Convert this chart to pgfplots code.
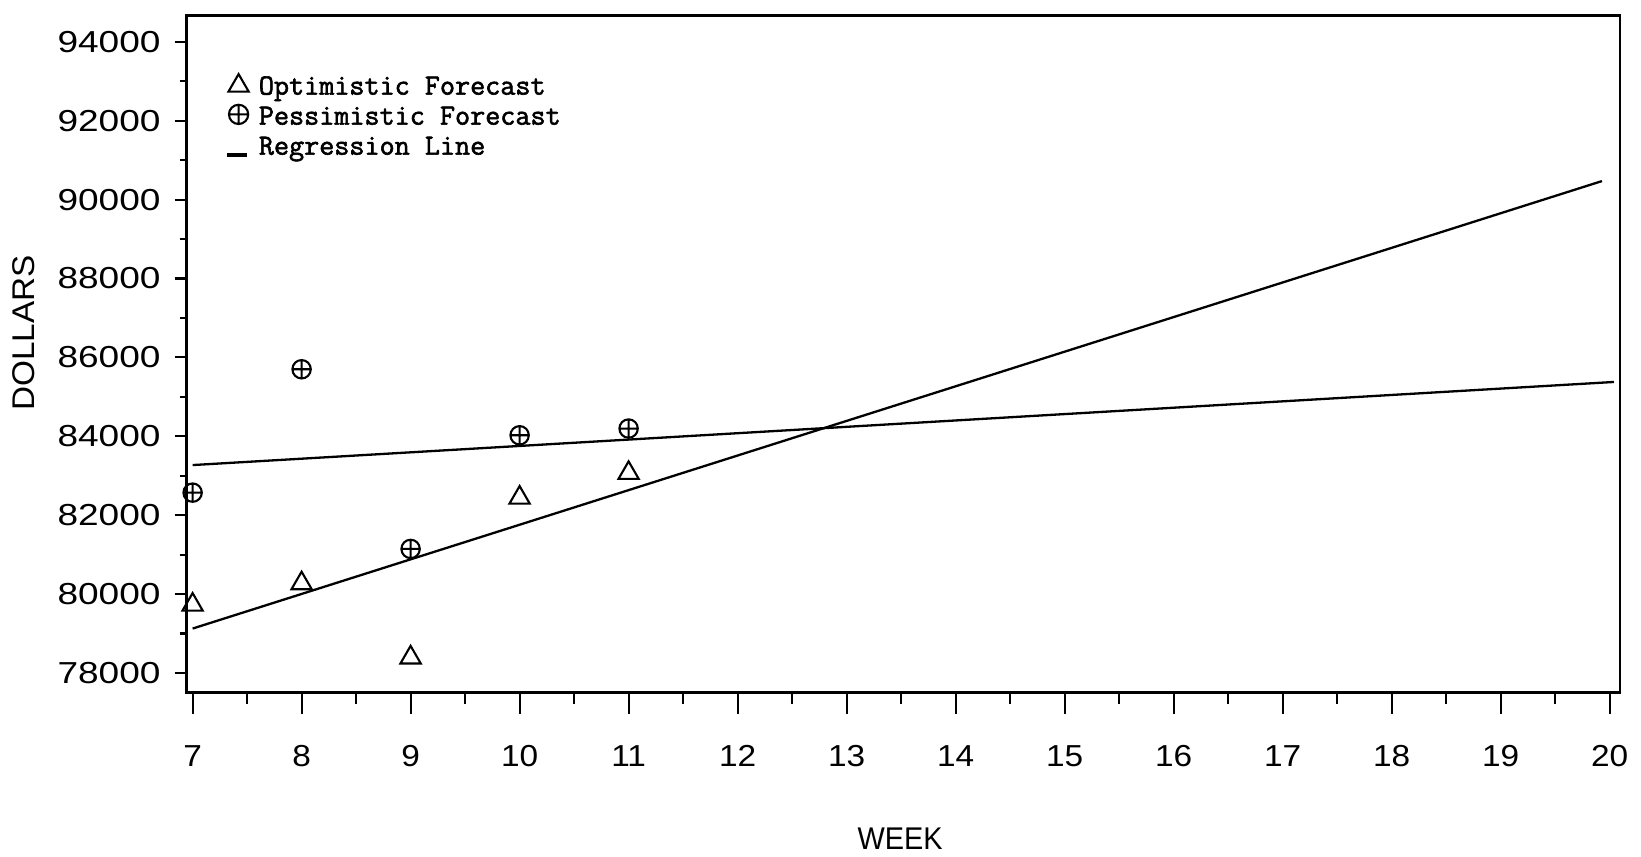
\documentclass[border=0pt]{standalone}
\usepackage{pgfplots}
\pgfplotsset{compat=1.18}
\usepackage{fontspec}
\newfontfamily\yfont[FakeStretch=1.22]{Liberation Sans}
\newfontfamily\xfont[FakeStretch=1.1]{Liberation Sans}
\newfontfamily\labfont[FakeStretch=1.06]{Liberation Sans}
\newfontfamily\wkfont[FakeStretch=0.92]{Liberation Sans}
\newfontfamily\legfont[FakeStretch=1.0,FakeBold=2]{Latin Modern Mono}
\begin{document}
\begin{tikzpicture}
\useasboundingbox (-89pt,-78pt) rectangle (695pt,331pt);
\begin{axis}[
  at={(0pt,0pt)}, anchor=south west,
  scale only axis, width=685pt, height=323.5pt,
  xmin=6.942, xmax=20.096, ymin=77496, ymax=94663,
  scaled y ticks=false, scaled x ticks=false,
  xtick=\empty,
  ytick={78000,80000,82000,84000,86000,88000,90000,92000,94000},
  yticklabels={78000,80000,82000,84000,86000,88000,90000,92000,94000},
  minor ytick={79000,81000,83000,85000,87000,89000,91000,93000},
  ytick pos=left,
  tick align=outside,
  major tick length=5.6pt, minor tick length=3.2pt,
  tick style={black, line width=1pt},
  axis line style={line width=1.3pt},
  yticklabel style={font=\yfont\fontsize{14.5}{17}\selectfont, anchor=east, inner sep=0pt},
  yticklabel shift=6.5pt,
  ylabel={DOLLARS},
  ylabel style={at={(axis description cs:-0.1131,0.5317)}, anchor=center, font=\labfont\fontsize{15}{18}\selectfont},
  legend style={at={(axis description cs:0.027,0.9088)}, anchor=north west, draw=none, fill=none, inner sep=0pt, row sep=3.85pt,
    font=\legfont\fontsize{14}{16}\selectfont, nodes={inner sep=0pt, text height=8pt, text depth=2.5pt}},
  legend cell align=left,
]
\addplot[only marks, mark=triangle, mark size=5.6pt, mark options={line width=1pt, fill=none},
  legend image code/.code={\path[draw=none] (0pt,0pt) -- (16pt,0pt); \draw[overlay, mark=triangle, mark size=5.6pt, mark options={line width=1pt}] plot[only marks] coordinates {(6.3pt,1.45pt)};}]
  coordinates {(7,79728) (8,80270) (9,78389) (10,82441) (11,83067)};
\addlegendentry{Optimistic Forecast}
\addplot[only marks, mark=oplus, mark size=4.4pt, mark options={line width=1pt},
  legend image code/.code={\path[draw=none] (0pt,0pt) -- (16pt,0pt); \draw[overlay, mark=oplus, mark size=4.6pt, mark options={line width=1pt}] plot[only marks] coordinates {(6.3pt,2.15pt)};}]
  coordinates {(7,82571) (8,85699) (9,81144) (10,84025) (11,84196)};
\addlegendentry{Pessimistic Forecast}
\addplot[line width=1.1pt, mark=none,
  legend image code/.code={\path[draw=none] (0pt,0pt) -- (16pt,0pt); \draw[overlay, line width=2pt] (0.8pt,-2.75pt) -- (10.3pt,-2.75pt);}]
  coordinates {(7,79125) (19.93,90470)};
\addlegendentry{Regression Line}
\addplot[line width=1.1pt, mark=none, forget plot] coordinates {(7,83270) (20.04,85377)};
\end{axis}
\begin{axis}[
  at={(0pt,0pt)}, anchor=south west,
  scale only axis, width=685pt, height=323.5pt,
  xmin=6.942, xmax=20.096, ymin=77496, ymax=94663,
  scaled y ticks=false, scaled x ticks=false,
  hide y axis,
  axis x line*=bottom,
  xtick={7,8,9,10,11,12,13,14,15,16,17,18,19,20},
  xticklabels={7,8,9,10,11,12,13,14,15,16,17,18,19,20},
  minor xtick={7.5,8.5,9.5,10.5,11.5,12.5,13.5,14.5,15.5,16.5,17.5,18.5,19.5},
  tick align=outside,
  major tick length=10pt, minor tick length=5.3pt,
  tick style={black, line width=1pt},
  axis line style={line width=1.3pt},
  xticklabel style={font=\xfont\fontsize{14.5}{17}\selectfont, anchor=north, inner sep=0pt},
  xticklabel shift=15pt,
  xlabel={WEEK},
  xlabel style={at={(axis description cs:0.4978,-0.2148)}, anchor=center, font=\wkfont\fontsize{15}{18}\selectfont},
]
\end{axis}
\end{tikzpicture}
\end{document}
